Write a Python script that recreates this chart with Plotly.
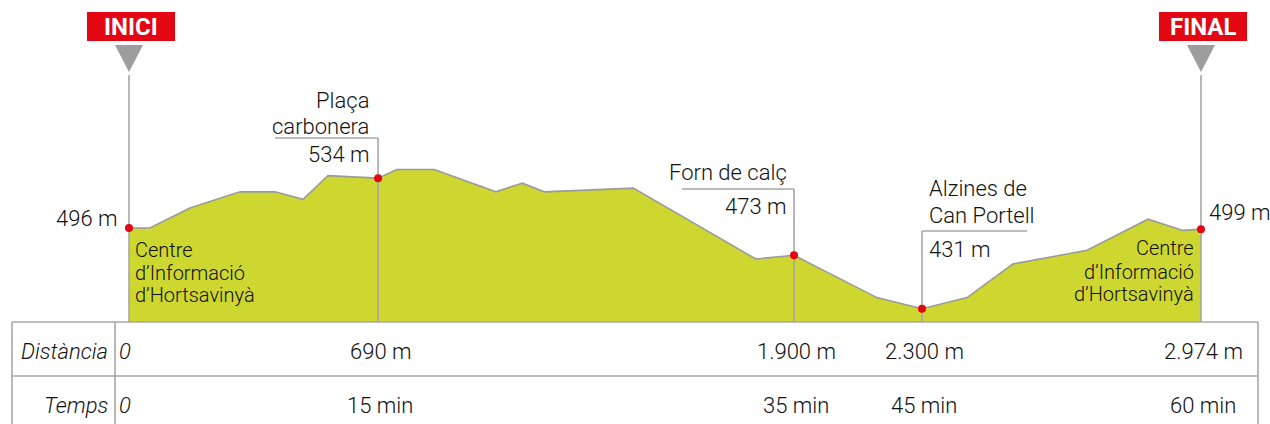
import plotly.graph_objects as go

# ---------------- data ----------------
profile_dist = [0, 58, 169, 308, 405, 483, 552, 691, 743, 847, 1018, 1091, 1152,
                1399, 1739, 1845, 2075, 2200, 2325, 2452, 2658, 2827, 2924, 2974]
profile_elev = [496, 496, 512, 525, 525, 519, 538, 536, 543, 543, 525, 532, 525,
                528, 471, 474, 440, 431, 440, 467, 478, 503, 494, 495]
base_elev = 420.4

wp_index = [0, 7, 15, 17, 23]
wp_elev_label = ["496 m", "534 m", "473 m", "431 m", "499 m"]
wp_dist_label = ["0", "690 m", "1.900 m", "2.300 m", "2.974 m"]
wp_time_label = ["0", "15 min", "35 min", "45 min", "60 min"]
start_name = ["Centre", "d’Informació", "d’Hortsavinyà"]
end_name = ["Centre", "d’Informació", "d’Hortsavinyà"]
wp1_name = ["Plaça", "carbonera"]
wp2_name = ["Forn de calç"]
wp3_name = ["Alzines de", "Can Portell"]
row_labels = ["Distància", "Temps"]
flags = ["INICI", "FINAL"]

# ---------------- layout constants ----------------
W, H = 1270, 424
LEFT_PX, RIGHT_PX = 129, 1201
m_per_px = profile_dist[-1] / (RIGHT_PX - LEFT_PX)
PX_PER_ELEV = 1.2441
ELEV_TOP = 845 / PX_PER_ELEV
x_range = [-LEFT_PX * m_per_px, (W - LEFT_PX) * m_per_px]
y_range = [ELEV_TOP - H / PX_PER_ELEV, ELEV_TOP]

FILL = "#cdd72f"
OUTLINE = "#9b9b9b"
LINE = "#a6a6a6"
RED = "#e30613"
TXT = "#111111"
FONT = "Roboto"


def py2elev(py):
    return ELEV_TOP - py / PX_PER_ELEV


def py2paper(py):
    return 1 - py / H


def d2px(d):
    return LEFT_PX + d / m_per_px


wp_x = [profile_dist[i] for i in wp_index]
wp_y = [profile_elev[i] for i in wp_index]

fig = go.Figure()

# baseline + filled profile
fig.add_trace(go.Scatter(x=profile_dist, y=[base_elev] * len(profile_dist),
                         mode="lines", line=dict(width=0), hoverinfo="skip",
                         showlegend=False))
fig.add_trace(go.Scatter(x=profile_dist, y=profile_elev, mode="lines",
                         fill="tonexty", fillcolor=FILL,
                         line=dict(color=OUTLINE, width=1.6), showlegend=False))

# leader lines (vertical from label level down to table, horizontal under labels)
leader_top_py = [75, 138, 189, 231, 75]
leader_h_px = [0, -103, -112, 105, 0]
for x, top, hpx in zip(wp_x, leader_top_py, leader_h_px):
    fig.add_trace(go.Scatter(x=[x, x], y=[py2elev(top), base_elev], mode="lines",
                             line=dict(color=LINE, width=1.6), hoverinfo="skip",
                             showlegend=False))
    if hpx:
        fig.add_trace(go.Scatter(x=[x + hpx * m_per_px, x], y=[py2elev(top)] * 2,
                                 mode="lines", line=dict(color=LINE, width=1.6),
                                 hoverinfo="skip", showlegend=False))

# waypoint markers
fig.add_trace(go.Scatter(x=wp_x, y=wp_y, mode="markers",
                         marker=dict(color=RED, size=8), showlegend=False))

shapes = []
annotations = []


def ann(text, x, py, xanchor="center", xshift=0, size=22, color=TXT,
        weight=300, style="normal", xref="x"):
    annotations.append(dict(text=text, x=x, y=py2paper(py), xref=xref, yref="paper",
                            xanchor=xanchor, yanchor="middle", xshift=xshift,
                            showarrow=False,
                            font=dict(family=FONT, size=size, color=color,
                                      weight=weight, style=style)))


# flags and triangles at start / end
for label, x in zip(flags, [wp_x[0], wp_x[-1]]):
    cx = d2px(x)
    shapes.append(dict(type="rect", xref="paper", yref="paper",
                       x0=(cx - 42) / W, x1=(cx + 46) / W,
                       y0=py2paper(41), y1=py2paper(12),
                       fillcolor=RED, line=dict(width=0), layer="above"))
    ann(label, x, 27, xshift=2, size=24, color="white", weight=700)
    shapes.append(dict(type="path", xref="paper", yref="paper",
                       path=f"M {(cx-14)/W},{py2paper(45)} L {(cx+14)/W},{py2paper(45)} "
                            f"L {cx/W},{py2paper(72)} Z",
                       fillcolor="#9d9d9d", line=dict(width=0)))

# start labels
ann(wp_elev_label[0], wp_x[0], 218, "right", -10)
for t, py in zip(start_name, [250, 273, 295]):
    ann(t, wp_x[0], py, "left", 4, size=20)
# Plaça carbonera
for t, py in zip(wp1_name, [100, 126]):
    ann(t, wp_x[1], py, "right", -7)
ann(wp_elev_label[1], wp_x[1], 154, "right", -7)
# Forn de calç
ann(wp2_name[0], wp_x[2], 173, "right", -5)
ann(wp_elev_label[2], wp_x[2], 206, "right", -6)
# Alzines
for t, py in zip(wp3_name, [189, 215]):
    ann(t, wp_x[3], py, "left", 5)
ann(wp_elev_label[3], wp_x[3], 249, "left", 5)
# end labels
ann(wp_elev_label[4], wp_x[4], 212, "left", 6)
for t, py in zip(end_name, [248, 272, 294]):
    ann(t, wp_x[4], py, "right", -5, size=20)

# table
TABLE_TOP, ROW_DIV = 322, 376
TL, TDIV, TR = 12, 115, 1258
for py in [TABLE_TOP, ROW_DIV]:
    shapes.append(dict(type="line", xref="paper", yref="paper", x0=TL / W, x1=TR / W,
                       y0=py2paper(py), y1=py2paper(py), line=dict(color=LINE, width=1.6)))
for px in [TL, TDIV, TR]:
    shapes.append(dict(type="line", xref="paper", yref="paper", x0=px / W, x1=px / W,
                       y0=py2paper(TABLE_TOP), y1=py2paper(H + 5),
                       line=dict(color=LINE, width=1.6)))

row_py = [351, 405]
for lab, py, vals in zip(row_labels, row_py, [wp_dist_label, wp_time_label]):
    ann(lab, 110 / W, py, "right", 0, style="italic", xref="paper")
    for i, (v, x) in enumerate(zip(vals, wp_x)):
        if i == 0:
            ann(v, x, py, "left", -12, style="italic")
        else:
            ann(v, x, py, "center", 2)

fig.update_layout(
    width=W, height=H, margin=dict(l=0, r=0, t=0, b=0),
    paper_bgcolor="white", plot_bgcolor="white",
    xaxis=dict(range=x_range, visible=False, fixedrange=True),
    yaxis=dict(range=y_range, visible=False, fixedrange=True),
    shapes=shapes, annotations=annotations, showlegend=False,
)

fig.write_html(
    "out.html",
    config={"displayModeBar": False},
    post_script="document.body.style.margin='0';document.body.style.padding='0';",
)
